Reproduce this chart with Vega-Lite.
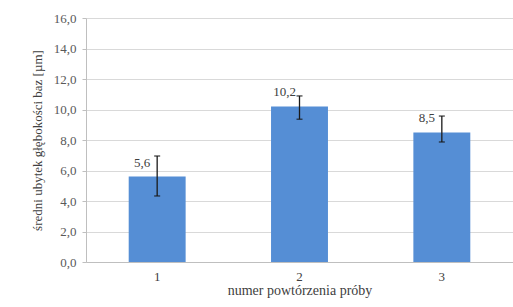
{
  "$schema": "https://vega.github.io/schema/vega-lite/v6.json",
  "width": 427,
  "height": 244,
  "autosize": {"type": "none"},
  "padding": {"left": 86, "top": 18, "right": 0, "bottom": 45},
  "background": "white",
  "config": {
    "locale": {"number": {"decimal": ",", "thousands": " ", "grouping": [3], "currency": ["", ""]}},
    "view": {"stroke": null},
    "font": "Times New Roman",
    "axisY": {
      "values": [0, 2, 4, 6, 8, 10, 12, 14, 16],
      "labelOverlap": false,
      "format": ".1f", "gridColor": "#d9d9d9", "domainColor": "#bfbfbf",
      "tickColor": "#bfbfbf", "tickSize": 4, "labelPadding": 6,
      "labelFont": "Times New Roman", "labelFontSize": 13, "labelColor": "#595959",
      "titleFont": "Times New Roman", "titleFontSize": 13, "titleFontWeight": "normal",
      "titleColor": "#404040", "titlePadding": 9
    }
  },
  "data": {"values": [
    {"proba": "1", "value": 5.6, "lo": 4.33, "hi": 6.95},
    {"proba": "2", "value": 10.2, "lo": 9.36, "hi": 10.89},
    {"proba": "3", "value": 8.5, "lo": 7.87, "hi": 9.57}
  ]},
  "encoding": {
    "x": {
      "field": "proba", "type": "nominal",
      "scale": {"paddingInner": 0.6, "paddingOuter": 0.3},
      "axis": {
        "title": "numer powtórzenia próby", "labelAngle": 0,
        "ticks": false, "domainColor": "#bfbfbf", "labelPadding": 8,
        "labelFont": "Times New Roman", "labelFontSize": 13, "labelColor": "#404040",
        "titleFont": "Times New Roman", "titleFontSize": 14, "titleFontWeight": "normal",
        "titleColor": "#404040", "titlePadding": 0
      }
    }
  },
  "layer": [
    {
      "mark": {"type": "bar", "color": "#558ed5"},
      "encoding": {
        "y": {
          "field": "value", "type": "quantitative",
          "scale": {"domain": [0, 16]},
          "title": "średni ubytek  głębokości baz [µm]"
        }
      }
    },
    {
      "mark": {"type": "rule", "color": "#1a1a1a", "strokeWidth": 1.3},
      "encoding": {
        "y": {"field": "lo", "type": "quantitative", "title": "średni ubytek  głębokości baz [µm]"},
        "y2": {"field": "hi"}
      }
    },
    {
      "mark": {"type": "tick", "color": "#1a1a1a", "size": 6, "thickness": 1.5},
      "encoding": {"y": {"field": "lo", "type": "quantitative", "title": "średni ubytek  głębokości baz [µm]"}}
    },
    {
      "mark": {"type": "tick", "color": "#1a1a1a", "size": 6, "thickness": 1.5},
      "encoding": {"y": {"field": "hi", "type": "quantitative", "title": "średni ubytek  głębokości baz [µm]"}}
    },
    {
      "mark": {"type": "text", "dx": -15, "dy": -14, "baseline": "middle", "font": "Times New Roman", "fontSize": 13, "color": "#404040"},
      "encoding": {
        "y": {"field": "value", "type": "quantitative", "title": "średni ubytek  głębokości baz [µm]"},
        "text": {"field": "value", "type": "quantitative", "format": ".1f"}
      }
    }
  ]
}
